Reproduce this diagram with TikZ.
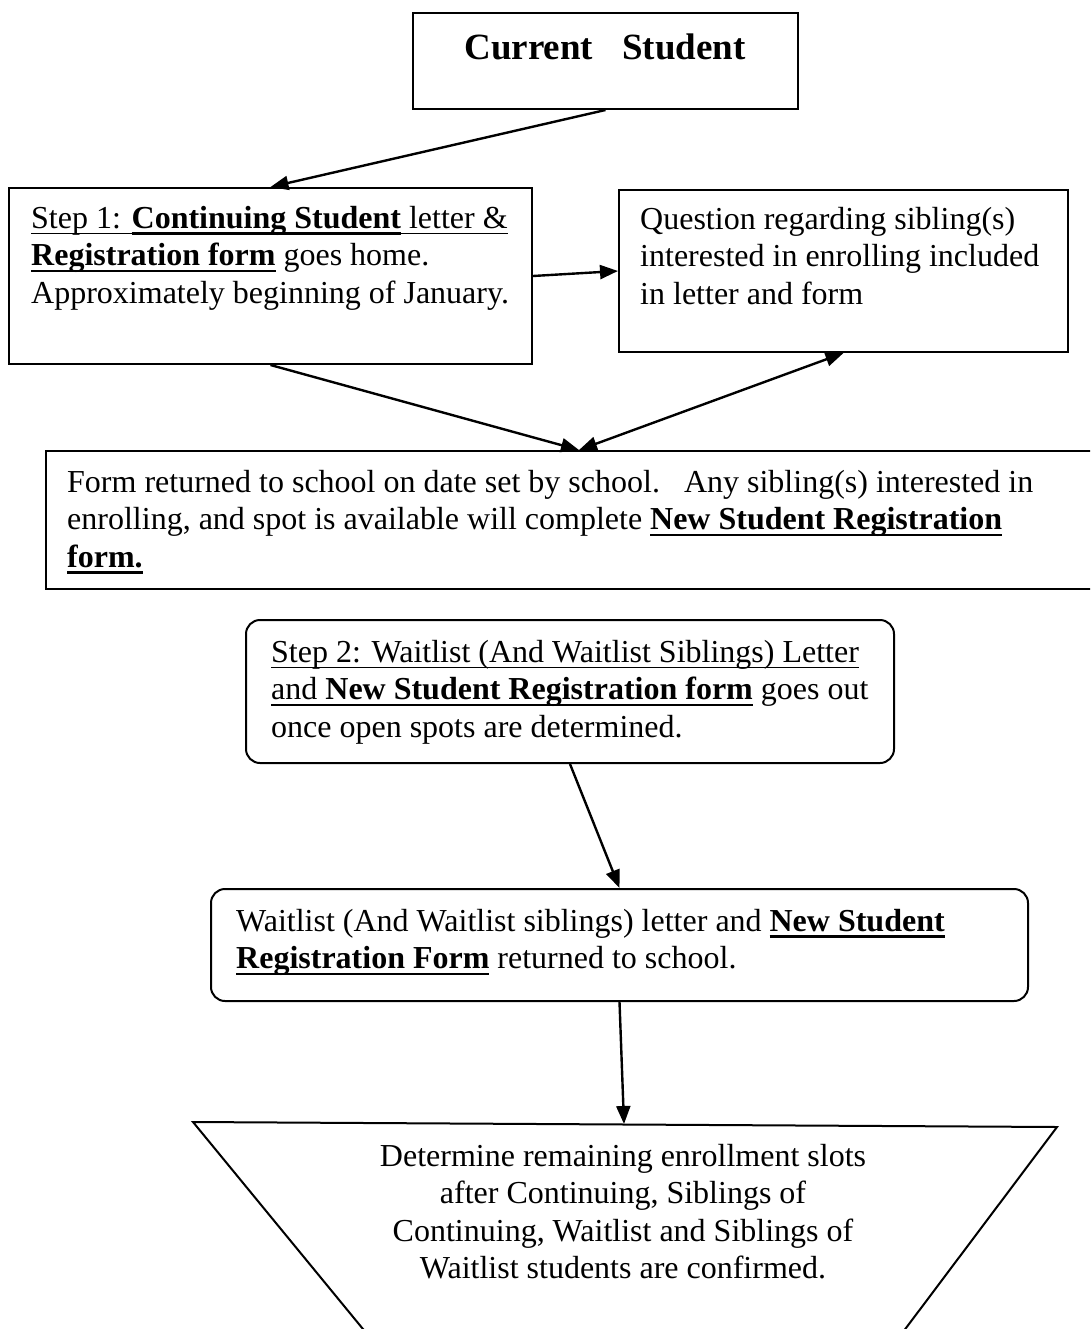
\documentclass[tikz,border=0pt]{standalone}
\usepackage{fontspec}
\setmainfont{Liberation Serif}
\usetikzlibrary{arrows.meta,calc}
\newsavebox{\myulbox}
\newcommand{\myul}[1]{\sbox{\myulbox}{#1}\rlap{\rule[-6pt]{\wd\myulbox}{1.6pt}}\usebox{\myulbox}}
\newcommand{\bu}[1]{\sbox{\myulbox}{\textbf{#1}}\rlap{\rule[-6.5pt]{\wd\myulbox}{2.6pt}}\usebox{\myulbox}}
\begin{document}
\begin{tikzpicture}[x=1pt,y=-1pt,
  box/.style={draw=black,line width=2pt,inner sep=0pt,fill=none},
  txt/.style={inner sep=0pt,anchor=north west,align=left,font=\fontsize{32}{37.5}\selectfont},
  conn/.style={line width=2.4pt,-{Triangle[length=18pt,width=14pt]}},
  conn2/.style={line width=2.4pt,{Triangle[length=18pt,width=14pt]}-{Triangle[length=18pt,width=14pt]}}]
\useasboundingbox[fill=white] (0,0) rectangle (1090,1329);
\begin{scope}
\clip (0,0) rectangle (1090,1329);
% boxes
\node[box,minimum width=385pt,minimum height=96pt,anchor=north west] (cs) at (412,12) {};
\node[inner sep=0pt,anchor=base,font=\fontsize{37}{40}\selectfont\bfseries] (cst) at (605,60) {Current\hspace{29pt}Student};

\node[box,minimum width=523pt,minimum height=176pt,anchor=north west] (s1) at (8,187) {};
\node[txt] (s1t) at (31,206) {\myul{Step 1: }\bu{Continuing Student}\myul{ letter \&}\\
\bu{Registration form} goes home.\\
Approximately beginning of January.};

\node[box,minimum width=449pt,minimum height=162pt,anchor=north west] (q) at (618,189) {};
\node[txt] (qt) at (640,207) {Question regarding sibling(s)\\
interested in enrolling included\\
in letter and form};

\node[box,minimum width=1066pt,minimum height=138pt,anchor=north west] (form) at (45,450) {};
\node[txt] (formt) at (67,470) {Form returned to school on date set by school.\ \ \ Any sibling(s) interested in\\
enrolling, and spot is available will complete \bu{New Student Registration}\\
\bu{form.}};

\node[box,rounded corners=14pt,minimum width=648pt,minimum height=143pt,anchor=north west] (s2) at (245,619) {};
\node[txt] (s2t) at (271,640) {\myul{Step 2: Waitlist (And Waitlist Siblings) Letter}\\
\myul{and }\bu{New Student Registration form} goes out\\
once open spots are determined.};

\node[box,rounded corners=14pt,minimum width=817pt,minimum height=112pt,anchor=north west] (wl) at (210,888) {};
\node[txt] (wlt) at (236,909) {Waitlist (And Waitlist siblings) letter and \bu{New Student}\\
\bu{Registration Form} returned to school.};

% inverted trapezoid
\coordinate (trtl) at (193,1122);
\coordinate (trtr) at (1057,1127);
\coordinate (trbl) at (372,1340);
\coordinate (trbr) at (897,1340);
\coordinate (trtop) at (624,1124);
\draw[line width=2pt,line join=miter] (trbl) -- (trtl) -- (trtr) -- (trbr);
\node[txt,anchor=north,align=center] (trt) at (623,1144) {Determine remaining enrollment slots\\
after Continuing, Siblings of\\
Continuing, Waitlist and Siblings of\\
Waitlist students are confirmed.};

% connectors
\draw[conn] (cs.south) -- (s1.north);
\draw[conn] (s1.east) -- (q.west);
\draw[conn] (s1.south) -- (form.north);
\draw[conn2] (q.south) -- (form.north);
\draw[conn] (s2.south) -- (wl.north);
\draw[conn] (wl.south) -- (trtop);
\end{scope}
\end{tikzpicture}
\end{document}
